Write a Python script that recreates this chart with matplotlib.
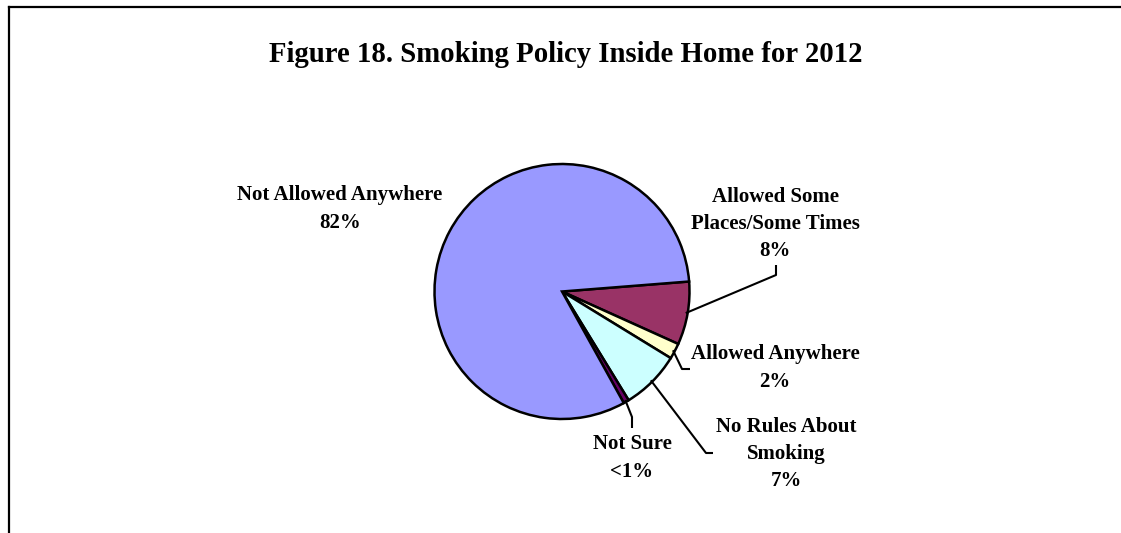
import matplotlib
matplotlib.use("Agg")
from matplotlib import pyplot as plt
import numpy as np

# slices in clockwise order, starting just above 3 o'clock
names = ["Allowed Some\nPlaces/Some Times", "Allowed Anywhere", "No Rules About\nSmoking", "Not Sure", "Not Allowed Anywhere"]
values = [8.0, 2.0, 7.5, 0.7, 81.8]
pct_labels = ["8%", "2%", "7%", "<1%", "82%"]
colors = ["#993366", "#FFFFCC", "#CCFFFF", "#660066", "#9999FF"]

W, H = 1121, 533
plt.rcParams['font.family'] = ['Liberation Serif', 'DejaVu Serif']

fig = plt.figure(figsize=(W / 100, H / 100), dpi=100)
ax = fig.add_axes([0, 0, 1, 1])

cx, cy, R = 562, H - 291.5, 127.5
wedges, _ = ax.pie(values, colors=colors, startangle=4.5, counterclock=False,
                   center=(cx, cy), radius=R,
                   wedgeprops=dict(edgecolor="black", linewidth=1.8))
ax.set_xlim(0, W)
ax.set_ylim(0, H)
ax.set_aspect("auto")
ax.axis("off")

# label block centres (pixels from top) and leader elbows
label_pos = [(775, 224), (775, 368), (786, 454), (632, 458), (340, 209)]
leaders = [[(776, 275), (776, 265)],
           [(682, 369), (690, 369)],
           [(706, 453), (713, 453)],
           [(632, 417), (632, 428)],
           None]

for w, name, pct, (lx, ly), lead in zip(wedges, names, pct_labels, label_pos, leaders):
    ax.text(lx, H - ly, name + "\n" + pct, ha="center", va="center",
            fontsize=15, fontweight="bold", linespacing=1.5)
    if lead is None:
        continue
    mid = np.deg2rad((w.theta1 + w.theta2) / 2)
    xs = [cx + R * 0.985 * np.cos(mid)] + [p[0] for p in lead]
    ys = [cy + R * 0.985 * np.sin(mid)] + [H - p[1] for p in lead]
    ax.plot(xs, ys, color="black", linewidth=1.5, solid_capstyle="butt")

ax.text(566, H - 55, "Figure 18. Smoking Policy Inside Home for 2012",
        ha="center", va="center", fontsize=20.7, fontweight="bold")

# chart frame (only top and left edges fall inside the picture)
ax.plot([9, W + 5], [H - 7, H - 7], color="black", linewidth=1.6, clip_on=False)
ax.plot([9, 9], [H - 7, -5], color="black", linewidth=1.6, clip_on=False)

fig.savefig("out.png", dpi=100)
